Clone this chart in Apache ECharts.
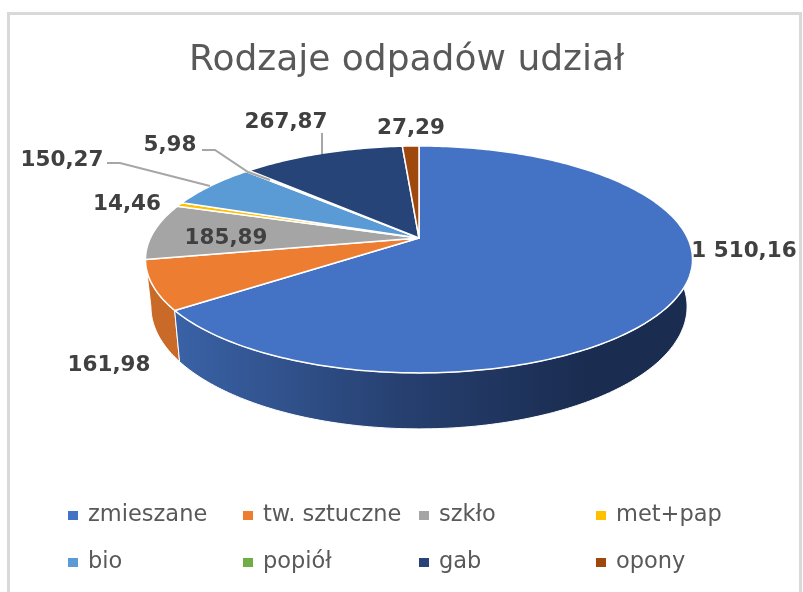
<!DOCTYPE html>
<html style="height: 100%">
<head>
<meta charset="utf-8">
</head>
<body style="height: 100%; margin: 0; background: #fff">
<div id="container" style="width: 803px; height: 592px"></div>
<script src="https://cdn.jsdelivr.net/npm/echarts/dist/echarts.min.js"></script>
<script type="text/javascript">
var categories = ['zmieszane', 'tw. sztuczne', 'szkło', 'met+pap', 'bio', 'popiół', 'gab', 'opony'];
var values = [1510.16, 161.98, 185.89, 14.46, 150.27, 5.98, 267.87, 27.29];
var valueLabels = ['1 510,16', '161,98', '185,89', '14,46', '150,27', '5,98', '267,87', '27,29'];
var colors = ['#4472C4', '#ED7D31', '#A5A5A5', '#FFC000', '#5B9BD5', '#70AD47', '#264478', '#9E480E'];
var wallColors = ['#3a62a6', '#c96a28', '#8c8c8c', '#d9a300', '#4d84b5', '#5f933c', '#203a66', '#863d0c'];

// label centres, leader lines and legend spots
var labelPos = [[744, 251], [109, 365], [226, 238], [127, 204], [62, 160], [170, 145], [286, 122], [411, 128]];
var leaders = {
	4: [[107, 163], [120, 163], [210, 186]],
	5: [[202, 150], [215, 150], [248, 172], [270, 180]],
	6: [[322, 133], [322, 154]]
};
var legendX = [68, 243, 419, 596];
var legendY = [504, 551];

// perspective of the disc
var cx = 419, cy = 238, A = 268.6, B = 109.4, K = 0.189;
var total = 0;
values.forEach(function(v) { total += v; });

function rim(deg) {
	var a = deg * Math.PI / 180;
	var u = Math.sin(a), v = Math.cos(a), w = 1 + K * v;
	return [cx + A * u / w, cy - B * v / w];
}
function bottom(p) {
	return [cx + 0.98 * (p[0] - cx), 283.6 + 1.077 * (p[1] - cy)];
}
function arc(from, to) {
	var pts = [], n = Math.max(2, Math.ceil((to - from) / 1));
	for (var i = 0; i <= n; i++) {
		pts.push(rim(from + (to - from) * i / n));
	}
	return pts;
}

var blueWall = new echarts.graphic.LinearGradient(175, 0, 690, 0, [
	{ offset: 0, color: '#3a62a6' },
	{ offset: 0.45, color: '#263f6f' },
	{ offset: 0.8, color: '#1a2c50' },
	{ offset: 1, color: '#1a2c50' }
], true);

var series = [];
var start = 0;
categories.forEach(function(name, idx) {
	var from = start / total * 360;
	start += values[idx];
	var to = start / total * 360;
	series.push({
		type: 'custom',
		name: name,
		coordinateSystem: 'none',
		animation: false,
		silent: true,
		itemStyle: { color: colors[idx] },
		data: [[values[idx]]],
		renderItem: function(params, api) {
			var top = arc(from, to);
			var wall = top.concat(top.map(bottom).reverse());
			var kids = [{
				type: 'polygon',
				z2: 9 - idx,
				shape: { points: wall },
				style: {
					fill: idx == 0 ? blueWall : wallColors[idx],
					stroke: '#fff',
					lineWidth: 1
				}
			}, {
				type: 'polygon',
				z2: 10,
				shape: { points: [[cx, cy]].concat(top) },
				style: { fill: colors[idx], stroke: '#fff', lineWidth: 1.5, lineJoin: 'round' }
			}];
			if (leaders[idx]) {
				kids.push({
					type: 'polyline',
					z2: 20,
					shape: { points: leaders[idx] },
					style: { fill: null, stroke: '#a6a6a6', lineWidth: 2 }
				});
			}
			kids.push({
				type: 'text',
				z2: 30,
				style: {
					text: valueLabels[idx],
					x: labelPos[idx][0],
					y: labelPos[idx][1],
					align: 'center',
					verticalAlign: 'middle',
					fill: '#404040',
					font: 'bold 21.5px "DejaVu Sans"'
				}
			});
			return { type: 'group', children: kids };
		}
	});
});

var legends = categories.map(function(name, idx) {
	return {
		data: [name],
		left: legendX[idx % 4],
		top: legendY[idx < 4 ? 0 : 1],
		icon: 'rect',
		itemWidth: 10,
		itemHeight: 9,
		selectedMode: false,
		padding: 0,
		textStyle: {
			color: '#595959',
			fontFamily: 'DejaVu Sans',
			fontSize: 22.5,
			padding: [0, 0, 0, 5]
		}
	};
});

var myChart = echarts.init(document.getElementById('container'));
myChart.setOption({
	animation: false,
	backgroundColor: '#fff',
	title: {
		text: 'Rodzaje odpadów udział',
		left: 189,
		top: 43,
		padding: 0,
		textStyle: {
			color: '#595959',
			fontFamily: 'DejaVu Sans',
			fontWeight: 'normal',
			fontSize: 36
		}
	},
	legend: legends,
	graphic: [{
		type: 'rect',
		silent: true,
		z: -1,
		shape: { x: 8.5, y: 13.5, width: 792, height: 600 },
		style: { fill: 'none', stroke: '#d9d9d9', lineWidth: 3 }
	}],
	series: series
});
</script>
</body>
</html>
